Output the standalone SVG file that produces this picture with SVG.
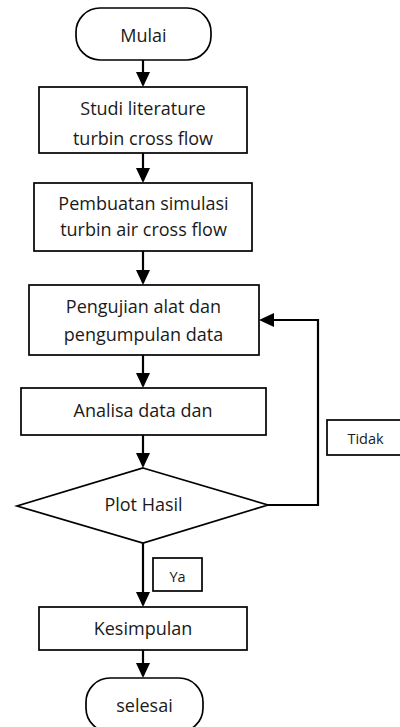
<svg xmlns="http://www.w3.org/2000/svg" width="400" height="727" viewBox="0 0 400 727">
<style>
.shape{fill:#fff;stroke:#000;stroke-width:1.7}
.conn{fill:none;stroke:#000;stroke-width:2.2}
.t{font-family:"Open Sans","Noto Sans",sans-serif;font-size:18px;fill:#1a1a1a;text-anchor:middle}
.s{font-family:"Open Sans","Noto Sans",sans-serif;font-size:14.5px;fill:#1a1a1a;text-anchor:middle}
</style>
<defs>
<marker id="ah" viewBox="0 0 15 14" refX="13" refY="7" markerWidth="15" markerHeight="14" markerUnits="userSpaceOnUse" orient="auto">
<path d="M0,0 L15,7 L0,14 Z" fill="#000"/>
</marker>
</defs>
<rect width="400" height="727" fill="#fff"/>
<g id="connectors">
<line class="conn" x1="143" y1="60" x2="143" y2="85" marker-end="url(#ah)"/>
<line class="conn" x1="143" y1="153" x2="143" y2="181" marker-end="url(#ah)"/>
<line class="conn" x1="143" y1="251" x2="143" y2="283" marker-end="url(#ah)"/>
<line class="conn" x1="143" y1="355" x2="143" y2="386" marker-end="url(#ah)"/>
<line class="conn" x1="143" y1="435" x2="143" y2="466" marker-end="url(#ah)"/>
<line class="conn" x1="143" y1="543" x2="143" y2="605" marker-end="url(#ah)"/>
<line class="conn" x1="143" y1="650" x2="143" y2="676" marker-end="url(#ah)"/>
<polyline class="conn" points="268,505 318,505 318,320 261,320" marker-end="url(#ah)"/>
</g>
<g id="mulai">
<rect class="shape" x="76" y="8" width="135" height="52" rx="24" ry="24"/>
<text class="t" x="143.5" y="42">Mulai</text>
</g>
<g id="studi">
<rect class="shape" x="39" y="87" width="208" height="66"/>
<text class="t" x="143" y="115">Studi literature</text>
<text class="t" x="143" y="145">turbin cross flow</text>
</g>
<g id="pembuatan">
<rect class="shape" x="34" y="183" width="218" height="68"/>
<text class="t" x="143.5" y="210">Pembuatan simulasi</text>
<text class="t" x="143.5" y="236">turbin air cross flow</text>
</g>
<g id="pengujian">
<rect class="shape" x="29" y="285" width="230" height="70"/>
<text class="t" x="143.5" y="313">Pengujian alat dan</text>
<text class="t" x="143.5" y="341">pengumpulan data</text>
</g>
<g id="analisa">
<rect class="shape" x="21" y="388" width="245" height="47"/>
<text class="t" x="143" y="417">Analisa data dan</text>
</g>
<g id="plot">
<polygon class="shape" points="143,468 268,505 143,543 17,506"/>
<text class="t" x="143.5" y="511">Plot Hasil</text>
</g>
<g id="tidak">
<rect class="shape" x="327" y="420" width="90" height="35"/>
<text class="s" x="365.5" y="444">Tidak</text>
</g>
<g id="ya">
<rect class="shape" x="153" y="558" width="49" height="33"/>
<text class="s" x="177.5" y="582">Ya</text>
</g>
<g id="kesimpulan">
<rect class="shape" x="39" y="607" width="208" height="43"/>
<text class="t" x="143" y="635">Kesimpulan</text>
</g>
<g id="selesai">
<rect class="shape" x="86" y="678" width="117" height="54" rx="24" ry="24"/>
<text class="t" x="144.5" y="712">selesai</text>
</g>
</svg>
